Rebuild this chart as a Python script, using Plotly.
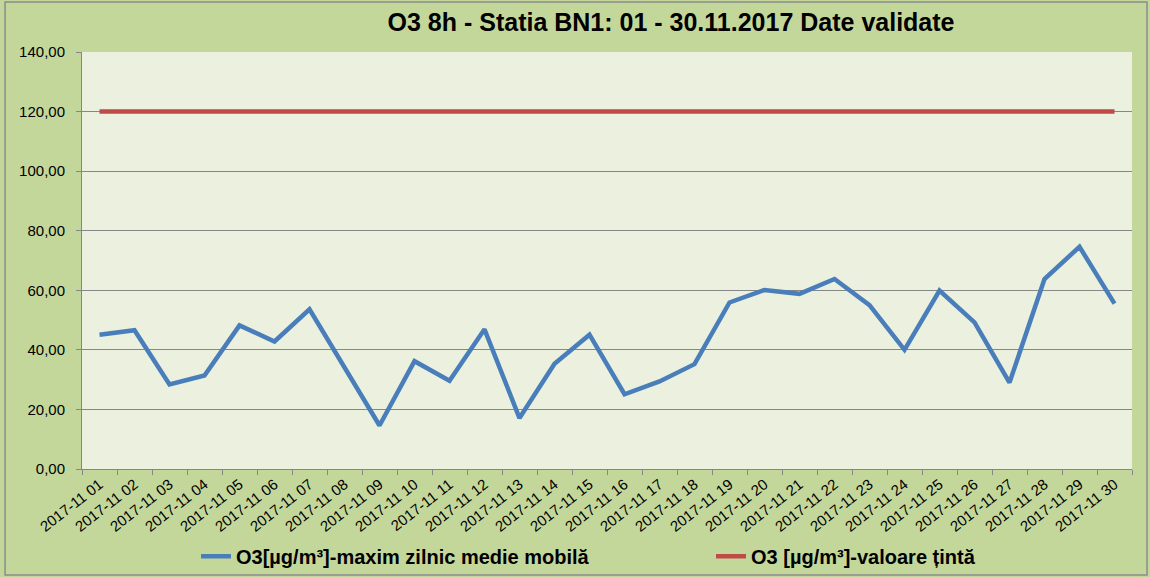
import plotly.graph_objects as go

dates = [f"2017-11 {d:02d}" for d in range(1, 31)]
o3_max = [45.1, 46.6, 28.4, 31.4, 48.2, 42.8, 53.6, 34.0, 14.6, 36.2,
          29.6, 46.9, 17.1, 35.3, 45.1, 25.1, 29.4, 35.2, 55.9, 60.1,
          58.8, 63.8, 55.0, 40.0, 59.9, 49.2, 29.0, 63.8, 74.6, 55.5]
target = [120.0] * 30
y_ticks = [0, 20, 40, 60, 80, 100, 120, 140]

name_max = "<b>O3[µg/m³]-maxim zilnic medie mobilă</b>"
name_target = "<b>O3 [µg/m³]-valoare țintă</b>"

fig = go.Figure()
fig.add_trace(go.Scatter(x=dates, y=o3_max, mode="lines", name=name_max,
                         line=dict(color="#4a7ebb", width=4.5)))
fig.add_trace(go.Scatter(x=dates, y=target, mode="lines", name=name_target,
                         line=dict(color="#be4b48", width=4.5)))

fig.update_layout(
    width=1150, height=577,
    margin=dict(l=82, r=18, t=52, b=108),
    paper_bgcolor="#c4d79b",
    plot_bgcolor="#ebf1de",
    separators=",.",
    font=dict(family="Liberation Sans, Arial, sans-serif", color="#000000"),
    title=dict(text="<b>O3 8h - Statia BN1: 01 - 30.11.2017 Date validate</b>",
               x=0.5835, xanchor="center", y=0.962, yanchor="middle",
               font=dict(size=25, color="#000000")),
    showlegend=True,
    legend=dict(orientation="h", x=196 / 1150, xref="container", xanchor="left",
                y=0.036, yref="container", yanchor="middle",
                font=dict(size=20, color="#000000"),
                bgcolor="rgba(0,0,0,0)", itemwidth=30,
                entrywidth=470, entrywidthmode="pixels"),
    xaxis=dict(type="category", range=[-0.5, 29.5], tickson="boundaries",
               ticks="outside", ticklen=5, tickcolor="#868686",
               showline=True, linecolor="#868686", linewidth=1,
               showgrid=False, tickangle=-38, automargin=False,
               tickfont=dict(size=15, color="#000000")),
    yaxis=dict(range=[0, 140], tickvals=y_ticks, tickformat=".2f",
               ticks="outside", ticklen=5, tickcolor="#868686",
               showline=True, linecolor="#868686", linewidth=1,
               showgrid=True, gridcolor="#878787", gridwidth=1,
               zeroline=False, automargin=False, ticklabelstandoff=8,
               tickfont=dict(size=15, color="#000000")),
)

# outer chart border
fig.add_shape(type="rect", xref="paper", yref="paper",
              x0=-0.0733, x1=1.0143, y0=-0.254, y1=1.12,
              line=dict(color="#8c8c8c", width=1.5), layer="below")

fig.write_html("out.html", config={"displayModeBar": False},
               post_script="document.body.style.margin='0';")
